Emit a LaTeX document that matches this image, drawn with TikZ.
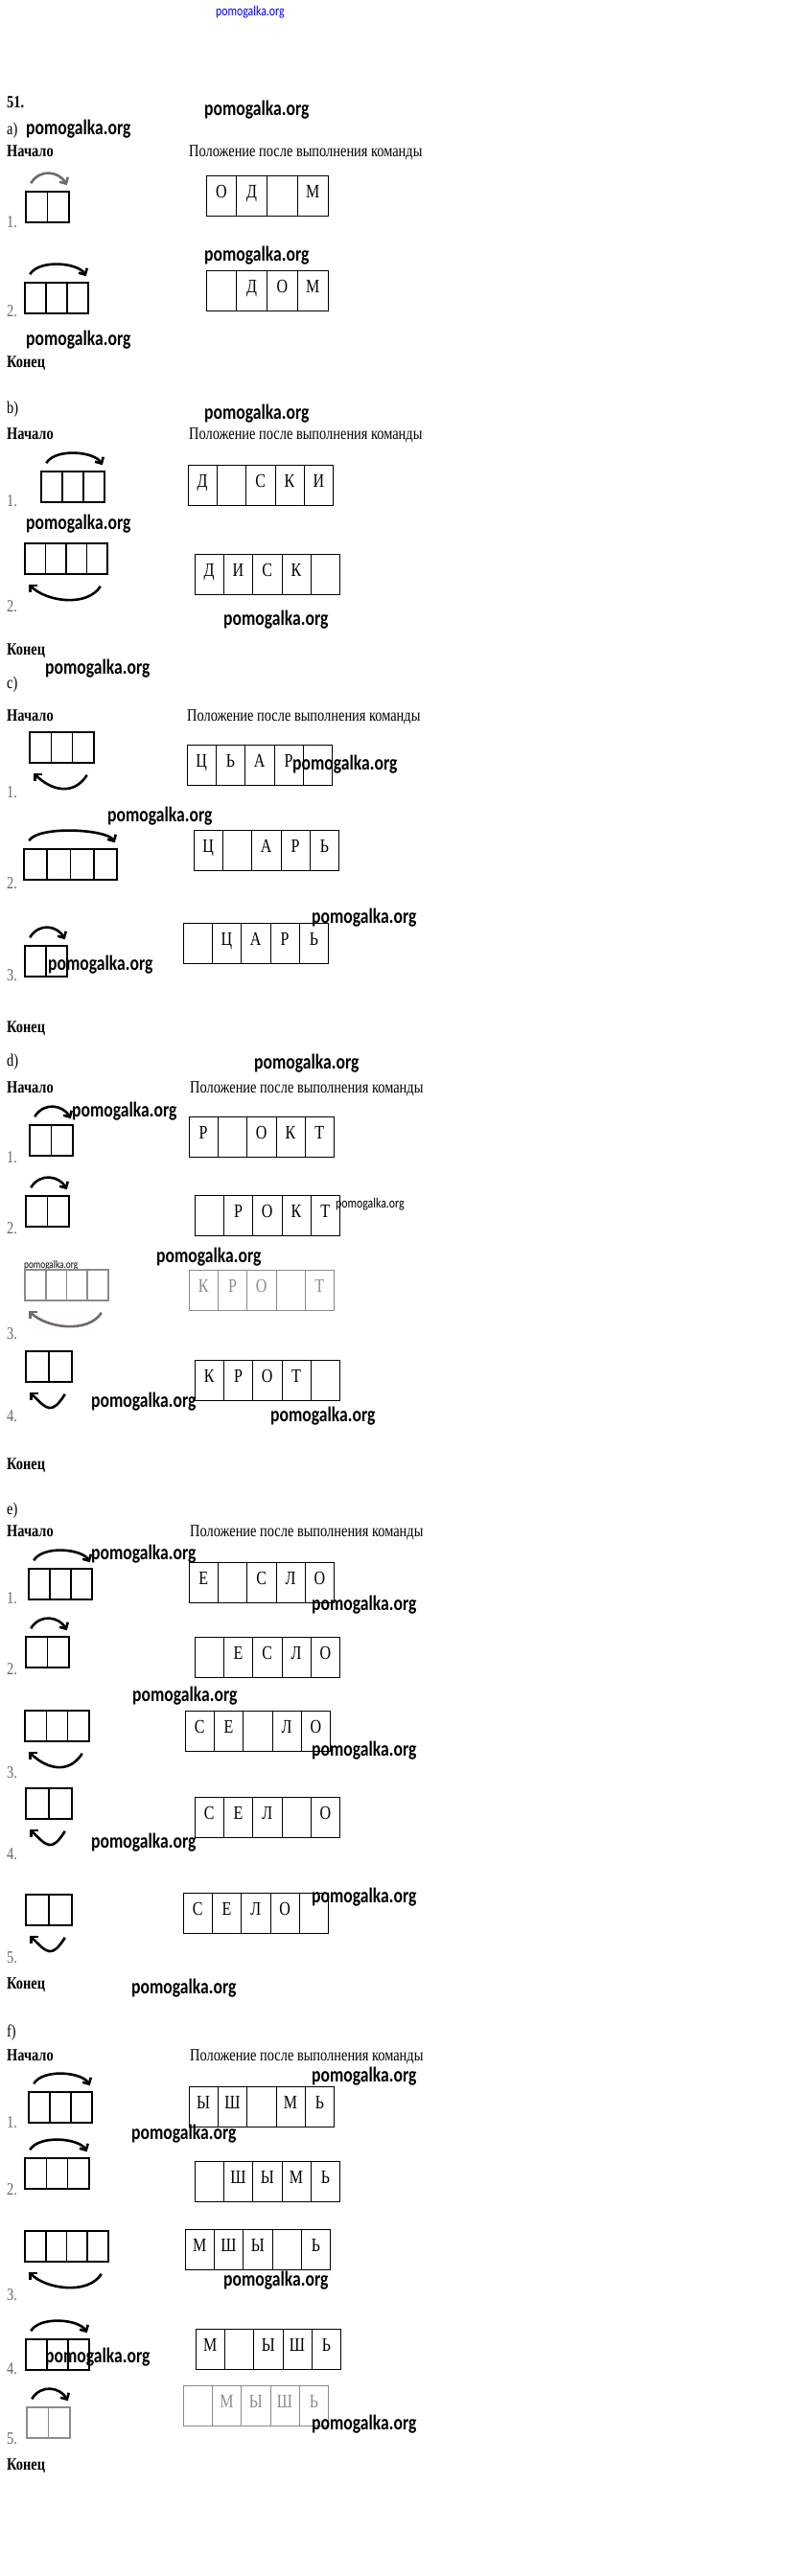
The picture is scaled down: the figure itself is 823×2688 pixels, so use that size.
\documentclass[tikz,border=0pt]{standalone}
\usepackage{fontspec}
\setmainfont[FakeStretch=0.8]{Liberation Serif}
\newfontfamily\wmfont[FakeStretch=0.8]{Carlito}
\usetikzlibrary{calc,arrows.meta}

\definecolor{fadegray}{RGB}{115,105,105}

\tikzset{
  startcell/.style={draw, line width=1.6pt, minimum height=32pt, inner sep=0pt},
  rescell/.style={draw, line width=0.8pt, minimum height=42pt, inner sep=0pt, text height=13pt, text depth=9pt, font=\fontsize{20}{22}\selectfont},
  cmdarrow/.style={line width=2.6pt, -{Straight Barb[length=5pt,width=10pt]}},
  txt/.style={anchor=base west, inner sep=0pt},
  hdr/.style={txt, font=\fontsize{18}{20}\selectfont\bfseries},
  num/.style={txt, text=black!60},
  wmark/.style={txt, font=\wmfont\bfseries\fontsize{22}{24}\selectfont},
  smallwmark/.style={txt, font=\wmfont\fontsize{14.8}{16}\selectfont},
  faded/.style={draw=black!45, text=black!45},
}

% cells of the machine: name, left, top, count, cell width
\newcommand{\startcells}[6][]{%
  \foreach \cell in {1,...,#5} {
    \node[startcell, minimum width=#6pt, #1] (#2-\cell) at ({#3+(\cell-0.5)*#6}, {#4+16}) {};
  }}
% tape after the command: name, left, top, cell width, letters
\newcommand{\resultrow}[6][]{%
  \foreach \ltr [count=\cell] in {#6} {
    \node[rescell, minimum width=#5pt, #1] (#2-\cell) at ({#3+(\cell-0.5)*#5}, {#4+21}) {\ltr};
  }}
\newcommand{\overarrow}[3][]{%
  \draw[cmdarrow, #1] ($(#2.north west)+(6,-8)$) .. controls +(10,-16) and +(-8,-14) .. ($(#3.north east)+(-3,-6)$);}
\newcommand{\underarrow}[3][]{%
  \draw[cmdarrow, #1] ($(#3.south east)+(-8,12)$) .. controls +(-14,22) and +(18,18) .. ($(#2.south west)+(5,10)$);}

\begin{document}
\begin{tikzpicture}[x=1pt, y=-1pt, font=\fontsize{18}{20}\selectfont]
    \useasboundingbox (0,0) rectangle (823,2688);

    \node[smallwmark, text=blue] (wm0) at (225,16) {pomogalka.org};
    \node[hdr] (num51) at (7,112) {51.};
    \node[wmark] (wm1) at (213,120) {pomogalka.org};

    % Part a
    \node[txt] (pa) at (7,140) {a)};
    \node[wmark] (wm2) at (27,140) {pomogalka.org};
    \node[hdr] (pa-start) at (7,163) {Начало};
    \node[txt] (pa-cap) at (197,163) {Положение после выполнения команды};
    \startcells{a1}{27}{200}{2}{22.5}
    \overarrow[draw=fadegray]{a1-1}{a1-2}
    \node[num] (a1-n) at (7,237) {1.};
    \resultrow{ra1}{215}{183}{31.75}{О,Д,{},М}
    \node[wmark] (wm3) at (213,272) {pomogalka.org};
    \startcells{a2}{26}{295}{3}{22}
    \overarrow{a2-1}{a2-3}
    \node[num] (a2-n) at (7,330) {2.};
    \resultrow{ra2}{215}{282}{31.75}{{},Д,О,М}
    \node[wmark] (wm4) at (27,360) {pomogalka.org};
    \node[hdr] (pa-end) at (7,383) {Конец};

    % Part b
    \node[txt] (pb) at (7,431) {b)};
    \node[wmark] (wm5) at (213,437) {pomogalka.org};
    \node[hdr] (pb-start) at (7,458) {Начало};
    \node[txt] (pb-cap) at (197,458) {Положение после выполнения команды};
    \startcells{b1}{43}{492}{3}{22}
    \overarrow{b1-1}{b1-3}
    \node[num] (b1-n) at (7,528) {1.};
    \resultrow{rb1}{196}{485}{30.3}{Д,{},С,К,И}
    \node[wmark] (wm6) at (27,552) {pomogalka.org};
    \startcells{b2}{26}{567}{4}{21.5}
    \underarrow{b2-1}{b2-4}
    \node[num] (b2-n) at (7,638) {2.};
    \resultrow{rb2}{203}{578}{30.3}{Д,И,С,К,{}}
    \node[wmark] (wm7) at (233,652) {pomogalka.org};
    \node[hdr] (pb-end) at (7,683) {Конец};
    \node[wmark] (wm8) at (47,703) {pomogalka.org};

    % Part c
    \node[txt] (pc) at (7,718) {c)};
    \node[hdr] (pc-start) at (7,752) {Начало};
    \node[txt] (pc-cap) at (195,752) {Положение после выполнения команды};
    \startcells{c1}{31}{764}{3}{22.3}
    \underarrow{c1-1}{c1-3}
    \node[num] (c1-n) at (7,832) {1.};
    \resultrow{rc1}{195}{777}{30.3}{Ц,Ь,А,Р,{}}
    \node[wmark] (wm9) at (305,803) {pomogalka.org};
    \node[wmark] (wm10) at (112,857) {pomogalka.org};
    \startcells{c2}{25}{886}{4}{24.25}
    \overarrow{c2-1}{c2-4}
    \node[num] (c2-n) at (7,927) {2.};
    \resultrow{rc2}{202}{866}{30.3}{Ц,{},А,Р,Ь}
    \node[wmark] (wm11) at (325,963) {pomogalka.org};
    \startcells{c3}{26}{987}{2}{22}
    \overarrow{c3-1}{c3-2}
    \node[num] (c3-n) at (7,1023) {3.};
    \resultrow{rc3}{191}{963}{30.3}{{},Ц,А,Р,Ь}
    \node[wmark] (wm12) at (50,1012) {pomogalka.org};
    \node[hdr] (pc-end) at (7,1077) {Конец};

    % Part d
    \node[txt] (pd) at (7,1112) {d)};
    \node[wmark] (wm13) at (265,1115) {pomogalka.org};
    \node[hdr] (pd-start) at (7,1140) {Начало};
    \node[txt] (pd-cap) at (198,1140) {Положение после выполнения команды};
    \startcells{d1}{31}{1174}{2}{22.5}
    \overarrow{d1-1}{d1-2}
    \node[wmark] (wm14) at (75,1165) {pomogalka.org};
    \node[num] (d1-n) at (7,1213) {1.};
    \resultrow{rd1}{197}{1165}{30.3}{Р,{},О,К,Т}
    \startcells{d2}{27}{1248}{2}{22.5}
    \overarrow{d2-1}{d2-2}
    \node[num] (d2-n) at (7,1287) {2.};
    \resultrow{rd2}{203}{1247}{30.3}{{},Р,О,К,Т}
    \node[smallwmark] (wm15) at (350,1260) {pomogalka.org};
    \node[wmark] (wm16) at (163,1317) {pomogalka.org};
    \node[smallwmark, font=\wmfont\fontsize{11.6}{13}\selectfont] (wm17) at (25,1323) {pomogalka.org};
    \startcells[faded]{d3}{26}{1325}{4}{21.75}
    \underarrow[draw=fadegray]{d3-1}{d3-4}
    \node[num] (d3-n) at (7,1397) {3.};
    \resultrow[faded]{rd3}{197}{1325}{30.3}{К,Р,О,{},Т}
    \startcells{d4}{27}{1410}{2}{24}
    \underarrow{d4-1}{d4-2}
    \node[num] (d4-n) at (7,1483) {4.};
    \resultrow{rd4}{203}{1419}{30.3}{К,Р,О,Т,{}}
    \node[wmark] (wm18) at (95,1468) {pomogalka.org};
    \node[wmark] (wm19) at (282,1483) {pomogalka.org};
    \node[hdr] (pd-end) at (7,1533) {Конец};

    % Part e
    \node[txt] (pe) at (7,1580) {e)};
    \node[hdr] (pe-start) at (7,1603) {Начало};
    \node[txt] (pe-cap) at (198,1603) {Положение после выполнения команды};
    \startcells{e1}{30}{1637}{3}{22}
    \overarrow{e1-1}{e1-3}
    \node[wmark] (wm20) at (95,1627) {pomogalka.org};
    \node[num] (e1-n) at (7,1673) {1.};
    \resultrow{re1}{197}{1630}{30.3}{Е,{},С,Л,О}
    \node[wmark] (wm21) at (325,1680) {pomogalka.org};
    \startcells{e2}{27}{1708}{2}{22.5}
    \overarrow{e2-1}{e2-2}
    \node[num] (e2-n) at (7,1747) {2.};
    \resultrow{re2}{203}{1708}{30.3}{{},Е,С,Л,О}
    \node[wmark] (wm22) at (138,1775) {pomogalka.org};
    \startcells{e3}{26}{1785}{3}{22.3}
    \underarrow{e3-1}{e3-3}
    \node[num] (e3-n) at (7,1855) {3.};
    \resultrow{re3}{193}{1785}{30.3}{С,Е,{},Л,О}
    \node[wmark] (wm23) at (325,1832) {pomogalka.org};
    \startcells{e4}{27}{1866}{2}{24}
    \underarrow{e4-1}{e4-2}
    \node[num] (e4-n) at (7,1940) {4.};
    \resultrow{re4}{203}{1875}{30.3}{С,Е,Л,{},О}
    \node[wmark] (wm24) at (95,1928) {pomogalka.org};
    \startcells{e5}{27}{1977}{2}{24}
    \underarrow{e5-1}{e5-2}
    \node[num] (e5-n) at (7,2048) {5.};
    \resultrow{re5}{191}{1975}{30.3}{С,Е,Л,О,{}}
    \node[wmark] (wm25) at (325,1985) {pomogalka.org};
    \node[hdr] (pe-end) at (7,2075) {Конец};
    \node[wmark] (wm26) at (137,2080) {pomogalka.org};

    % Part f
    \node[txt] (pf) at (7,2125) {f)};
    \node[hdr] (pf-start) at (7,2150) {Начало};
    \node[txt] (pf-cap) at (198,2150) {Положение после выполнения команды};
    \node[wmark] (wm27) at (325,2172) {pomogalka.org};
    \startcells{f1}{30}{2183}{3}{22}
    \overarrow{f1-1}{f1-3}
    \node[num] (f1-n) at (7,2220) {1.};
    \resultrow{rf1}{197}{2177}{30.3}{Ы,Ш,{},М,Ь}
    \node[wmark] (wm28) at (137,2232) {pomogalka.org};
    \startcells{f2}{26}{2252}{3}{22.3}
    \overarrow{f2-1}{f2-3}
    \node[num] (f2-n) at (7,2290) {2.};
    \resultrow{rf2}{203}{2255}{30.3}{{},Ш,Ы,М,Ь}
    \startcells{f3}{26}{2328}{4}{21.75}
    \underarrow{f3-1}{f3-4}
    \node[num] (f3-n) at (7,2400) {3.};
    \resultrow{rf3}{193}{2326}{30.3}{М,Ш,Ы,{},Ь}
    \node[wmark] (wm29) at (233,2385) {pomogalka.org};
    \startcells{f4}{27}{2441}{3}{22}
    \overarrow{f4-1}{f4-3}
    \node[num] (f4-n) at (7,2477) {4.};
    \resultrow{rf4}{204}{2430}{30.3}{М,{},Ы,Ш,Ь}
    \node[wmark] (wm30) at (47,2465) {pomogalka.org};
    \startcells[faded]{f5}{28}{2512}{2}{22.5}
    \overarrow{f5-1}{f5-2}
    \node[num] (f5-n) at (7,2550) {5.};
    \resultrow[faded]{rf5}{191}{2489}{30.3}{{},М,Ы,Ш,Ь}
    \node[wmark] (wm31) at (325,2535) {pomogalka.org};
    \node[hdr] (pf-end) at (7,2577) {Конец};
\end{tikzpicture}
\end{document}
